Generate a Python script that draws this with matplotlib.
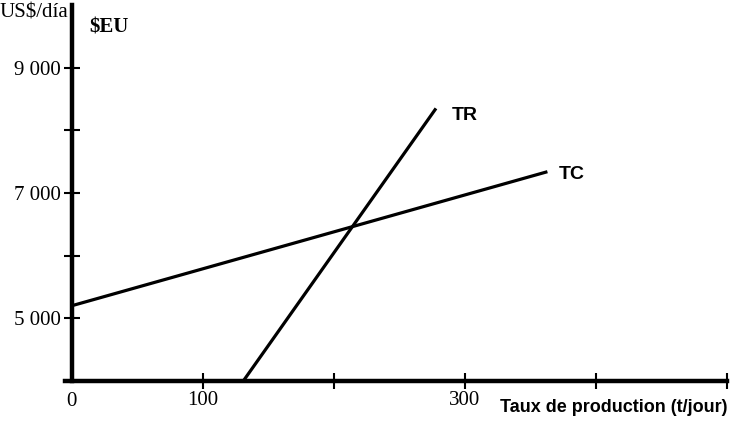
import matplotlib
matplotlib.use("Agg")
import matplotlib.pyplot as plt

# Data
tc_x = [0, 363]
tc_y = [5200, 7340]
tr_x = [131, 278]
tr_y = [4000, 8350]
x_ticks = [100, 200, 300, 400, 500]
x_tick_labels = ["100", "", "300", "", ""]
y_ticks = [5000, 6000, 7000, 8000, 9000]
y_tick_labels = ["5 000", "", "7 000", "", "9 000"]

W, H = 735, 421
fig = plt.figure(figsize=(W / 100, H / 100), dpi=100)
ax = fig.add_axes([65 / W, (421 - 381) / H, (727 - 65) / W, (381 - 5) / H])
ax.set_xlim(-5, 500)
ax.set_ylim(4000, 10000)

ax.plot(tc_x, tc_y, color="black", lw=2.3, solid_capstyle="butt")
ax.plot(tr_x, tr_y, color="black", lw=2.3, solid_capstyle="butt")

for s in ["top", "right"]:
    ax.spines[s].set_visible(False)
ax.spines["left"].set_position(("data", 0))
ax.spines["left"].set_linewidth(3.2)
ax.spines["bottom"].set_linewidth(3.2)

serif = "Liberation Serif"
ax.set_xticks(x_ticks)
ax.set_xticklabels(x_tick_labels, fontfamily=serif, fontsize=15)
ax.set_yticks(y_ticks)
ax.set_yticklabels(y_tick_labels, fontfamily=serif, fontsize=15)
ax.tick_params(axis="both", direction="inout", length=12, width=1.5, color="black")
ax.tick_params(axis="x", pad=1.5)
ax.tick_params(axis="y", pad=2)

# "0" label at origin
ax.text(0, 3830, "0", ha="center", va="top", fontfamily=serif, fontsize=15,
        transform=ax.transData)

fig.text(0 / W, 1 - 13 / H, "US$/día", ha="left", va="center", fontfamily=serif, fontsize=15)
fig.text(89 / W, 1 - 27 / H, "$EU", ha="left", va="center", fontfamily=serif,
         fontsize=15, fontweight="bold")
fig.text(452 / W, 1 - 115 / H, "TR", ha="left", va="center", fontfamily="Liberation Sans",
         fontsize=14, fontweight="bold")
fig.text(559 / W, 1 - 174 / H, "TC", ha="left", va="center", fontfamily="Liberation Sans",
         fontsize=14, fontweight="bold")
fig.text(728 / W, 1 - 407 / H, "Taux de production (t/jour)", ha="right", va="center",
         fontfamily="Liberation Sans", fontsize=13, fontweight="bold")

fig.savefig("out.png", dpi=100)
